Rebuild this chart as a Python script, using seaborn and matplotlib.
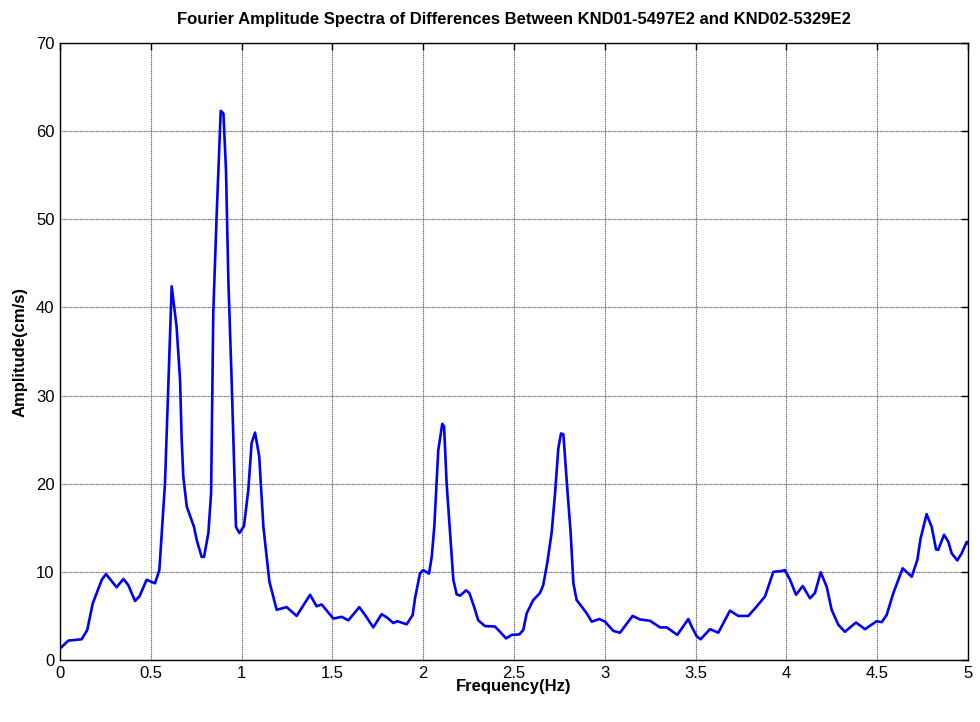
import numpy as np
import pandas as pd
import matplotlib
matplotlib.use("Agg")
import matplotlib.pyplot as plt
import seaborn as sns

freq = [0.0, 0.046, 0.119, 0.15, 0.18, 0.23, 0.253, 0.312, 0.349, 0.376, 0.413, 0.437,
        0.477, 0.523, 0.547, 0.578, 0.615, 0.642, 0.661, 0.67, 0.679, 0.698, 0.738,
        0.753, 0.78, 0.793, 0.817, 0.832, 0.844, 0.863, 0.885, 0.9, 0.914, 0.927,
        0.945, 0.969, 0.988, 1.013, 1.037, 1.055, 1.074, 1.097, 1.12, 1.153, 1.193,
        1.248, 1.303, 1.377, 1.413, 1.441, 1.505, 1.551, 1.588, 1.648, 1.68, 1.725,
        1.771, 1.802, 1.835, 1.857, 1.909, 1.942, 1.955, 1.982, 2.0, 2.032, 2.047,
        2.061, 2.083, 2.105, 2.115, 2.129, 2.148, 2.166, 2.184, 2.203, 2.236, 2.254,
        2.28, 2.303, 2.34, 2.395, 2.423, 2.456, 2.487, 2.529, 2.551, 2.57, 2.606,
        2.643, 2.661, 2.683, 2.707, 2.726, 2.744, 2.759, 2.772, 2.79, 2.812, 2.827,
        2.845, 2.873, 2.9, 2.928, 2.97, 3.001, 3.047, 3.084, 3.153, 3.194, 3.249,
        3.304, 3.341, 3.399, 3.46, 3.478, 3.506, 3.528, 3.579, 3.625, 3.689, 3.735,
        3.79, 3.827, 3.882, 3.928, 3.974, 3.992, 4.02, 4.053, 4.09, 4.13, 4.157,
        4.189, 4.222, 4.249, 4.286, 4.322, 4.383, 4.433, 4.497, 4.525, 4.552, 4.589,
        4.64, 4.69, 4.721, 4.739, 4.772, 4.8, 4.824, 4.836, 4.868, 4.892, 4.91,
        4.941, 4.965, 4.993, 5.0]
amplitude = [1.3, 2.2, 2.35, 3.4, 6.4, 9.1, 9.75, 8.25, 9.2, 8.5, 6.7, 7.2,
             9.1, 8.7, 10.2, 20.0, 42.4, 37.8, 31.8, 25.0, 20.8, 17.4, 15.1,
             13.6, 11.7, 11.7, 14.4, 18.9, 39.4, 50.7, 62.3, 62.0, 55.6, 43.1,
             31.8, 15.1, 14.4, 15.2, 19.3, 24.6, 25.8, 23.1, 15.1, 8.9, 5.7,
             6.0, 5.0, 7.4, 6.1, 6.3, 4.7, 4.9, 4.5, 6.0, 5.1, 3.7,
             5.2, 4.8, 4.2, 4.4, 4.05, 5.1, 7.0, 9.8, 10.2, 9.8, 11.7,
             15.1, 23.8, 26.8, 26.5, 20.0, 14.4, 9.1, 7.45, 7.3, 7.9, 7.6,
             6.05, 4.5, 3.85, 3.8, 3.2, 2.45, 2.85, 2.9, 3.4, 5.3, 6.8,
             7.6, 8.5, 11.0, 14.4, 18.9, 24.0, 25.7, 25.6, 20.4, 14.4, 8.7,
             6.8, 6.05, 5.3, 4.35, 4.65, 4.35, 3.3, 3.1, 5.0, 4.6, 4.45,
             3.7, 3.7, 2.85, 4.65, 3.8, 2.7, 2.35, 3.5, 3.1, 5.6, 5.0,
             5.0, 5.85, 7.2, 10.0, 10.1, 10.2, 9.1, 7.4, 8.4, 7.0, 7.6,
             9.95, 8.3, 5.7, 4.0, 3.2, 4.25, 3.5, 4.4, 4.3, 5.1, 7.6,
             10.4, 9.45, 11.35, 13.8, 16.55, 15.1, 12.55, 12.5, 14.2, 13.4, 12.1,
             11.3, 12.1, 13.4, 13.2]

x_ticks = [0, 0.5, 1, 1.5, 2, 2.5, 3, 3.5, 4, 4.5, 5]
x_tick_labels = ["0", "0.5", "1", "1.5", "2", "2.5", "3", "3.5", "4", "4.5", "5"]
y_ticks = [0, 10, 20, 30, 40, 50, 60, 70]
y_tick_labels = ["0", "10", "20", "30", "40", "50", "60", "70"]

sns.set_style("white")
plt.rcParams['font.family'] = ['Liberation Sans', 'DejaVu Sans']
plt.rcParams['text.color'] = 'black'
plt.rcParams['axes.labelcolor'] = 'black'

df = pd.DataFrame({"Frequency": freq, "Amplitude": amplitude})

fig = plt.figure(figsize=(9.8, 7.22), dpi=100)
ax = fig.add_axes([60/980, 62/722, 908/980, 617/722])

sns.lineplot(data=df, x="Frequency", y="Amplitude", ax=ax, color="#0000ff",
             linewidth=1.9, sort=False)

ax.set_xlim(0, 5)
ax.set_ylim(0, 70)
ax.set_xticks(x_ticks)
ax.set_xticklabels(x_tick_labels)
ax.set_yticks(y_ticks)
ax.set_yticklabels(y_tick_labels)

ax.grid(True, color="#666666", linestyle=(0, (1, 0.6)), linewidth=0.8)
ax.set_axisbelow(True)
for s in ax.spines.values():
    s.set_visible(True)
    s.set_color("black")
    s.set_linewidth(1.0)

ax.tick_params(axis="both", direction="in", length=5, width=1, colors="black",
               labelsize=12, top=True, right=True, pad=4)

ax.set_title("Fourier Amplitude Spectra of Differences Between KND01-5497E2 and KND02-5329E2",
             fontsize=12, fontweight="bold", pad=14, color="black")
ax.set_xlabel("Frequency(Hz)", fontsize=12, fontweight="bold", labelpad=-1, color="black")
ax.set_ylabel("Amplitude(cm/s)", fontsize=12, fontweight="bold", labelpad=6, color="black")

fig.savefig("out.png", dpi=100, facecolor="white")
